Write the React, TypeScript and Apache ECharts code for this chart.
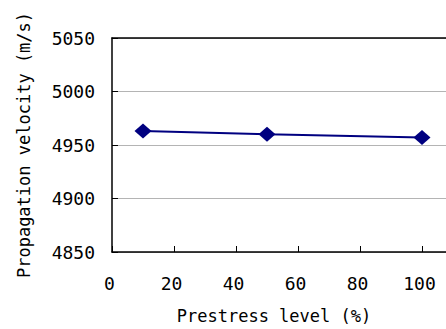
import React, { useEffect, useRef } from "react";
import * as echarts from "echarts";

const prestress = [10, 50, 100];
const velocity = [4963, 4960, 4957];
const yTicks = [4850, 4900, 4950, 5000, 5050];
const xName = "Prestress level (%)";
const yName = "Propagation velocity (m/s)";

const FONT = "DejaVu Sans Mono";

export default function App() {
  const ref = useRef<HTMLDivElement>(null);
  useEffect(() => {
    document.body.style.margin = "0";
    document.body.style.overflow = "hidden";
    const chart = echarts.init(ref.current!, null, { renderer: "svg" });
    chart.setOption({
      animation: false,
      backgroundColor: "#ffffff",
      grid: { left: 112, top: 38, width: 372, height: 217, containLabel: false },
      xAxis: [
        {
          type: "value",
          min: 0,
          max: 120,
          interval: 20,
          name: xName,
          nameLocation: "middle",
          nameGap: 55,
          nameTextStyle: { fontFamily: FONT, fontSize: 17, color: "#000", padding: [0, 48, 0, 0] },
          axisLine: { show: true, lineStyle: { color: "#000", width: 1.5 } },
          axisTick: { show: true, inside: true, length: 6, lineStyle: { color: "#000" } },
          axisLabel: {
            fontFamily: FONT,
            fontSize: 18,
            color: "#000",
            margin: 22,
            padding: [0, 5, 0, 0],
            formatter: (v: number) => (v > 100 ? "" : String(v)),
          },
          splitLine: { show: false },
        },
        {
          type: "value",
          position: "top",
          min: 0,
          max: 120,
          interval: 20,
          axisLine: { show: true, onZero: false, lineStyle: { color: "#000", width: 1.5 } },
          axisTick: { show: false },
          axisLabel: { show: false },
          splitLine: { show: false },
        },
      ],
      yAxis: {
        type: "value",
        min: yTicks[0],
        max: yTicks[yTicks.length - 1],
        interval: 50,
        name: yName,
        nameLocation: "middle",
        nameGap: 80,
        nameTextStyle: { fontFamily: FONT, fontSize: 17, color: "#000" },
        axisLine: { show: true, lineStyle: { color: "#000", width: 1.5 } },
        axisTick: { show: true, inside: true, length: 6, lineStyle: { color: "#000" } },
        axisLabel: {
          fontFamily: FONT,
          fontSize: 18,
          color: "#000",
          margin: 17,
          padding: [5, 0, 0, 0],
          formatter: (v: number) => String(v),
        },
        splitLine: { show: true, lineStyle: { color: "#b4b4b4", width: 1 } },
      },
      series: [
        {
          type: "line",
          data: prestress.map((x, i) => [x, velocity[i]]),
          symbol: "diamond",
          symbolSize: [17, 15],
          itemStyle: { color: "#000080" },
          lineStyle: { color: "#000080", width: 2 },
        },
      ],
    });
    return () => chart.dispose();
  }, []);
  return (
    <div style={{ width: 446, height: 329, overflow: "hidden", position: "relative" }}>
      <div ref={ref} style={{ width: 500, height: 329 }} />
    </div>
  );
}
